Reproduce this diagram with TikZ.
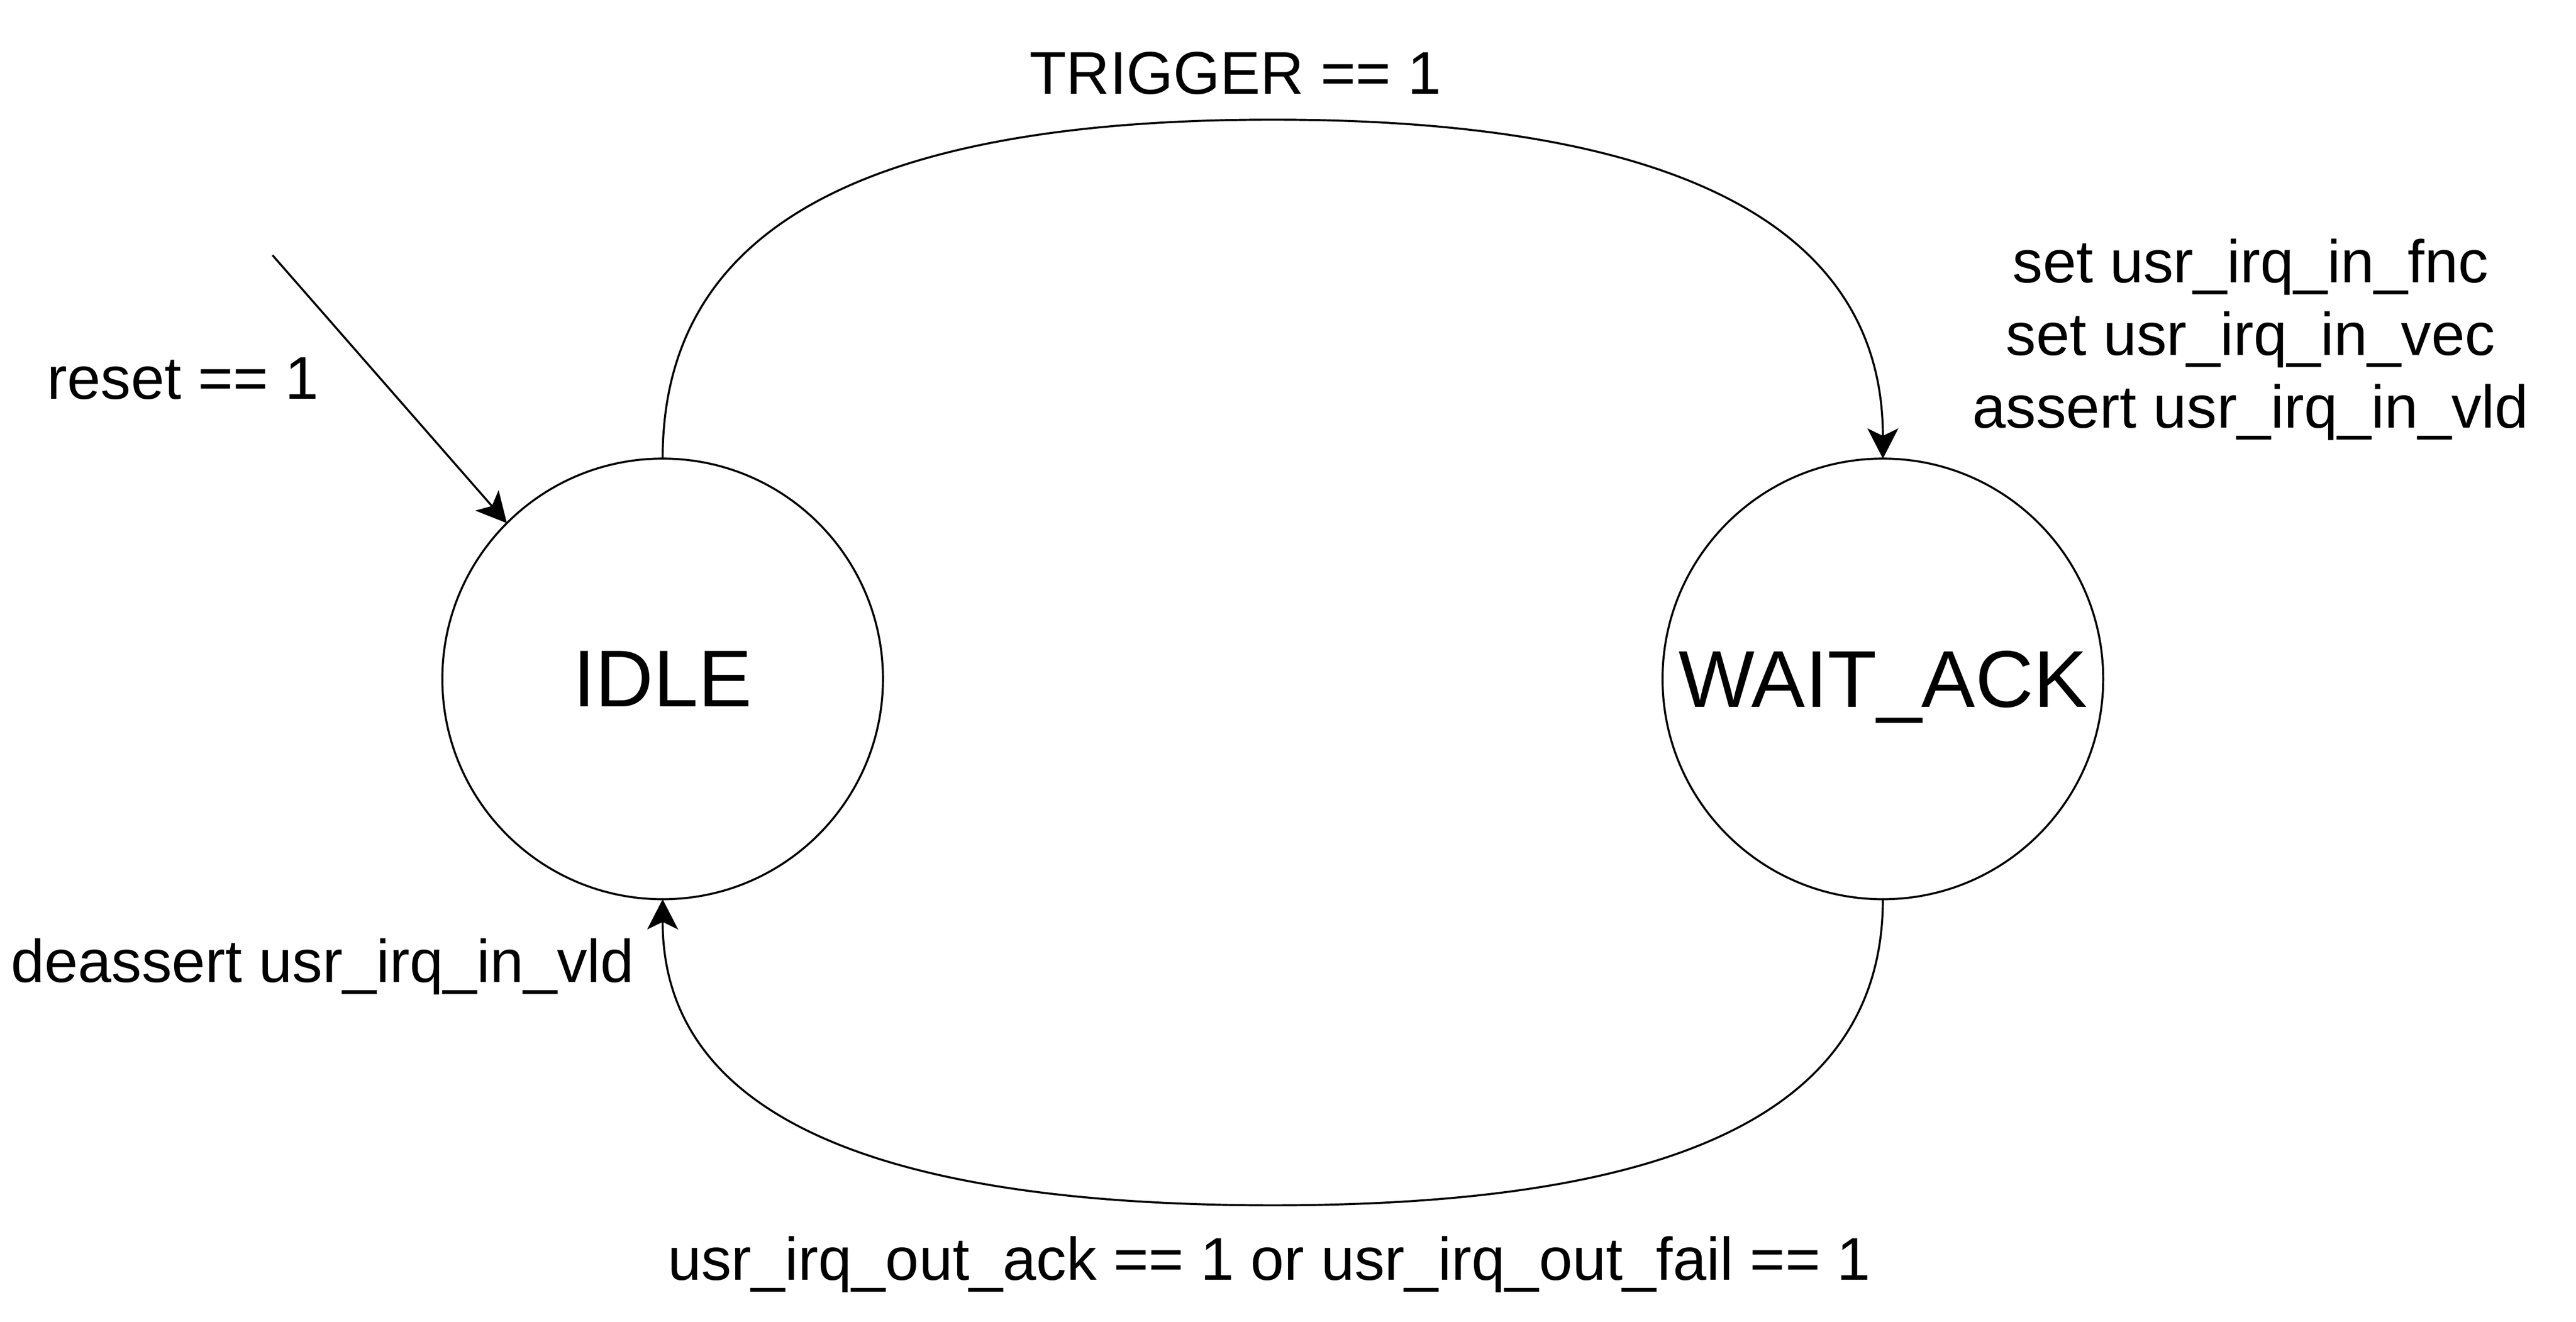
\documentclass[tikz,border=0pt]{standalone}
\usepackage{fontspec}
\setmainfont{Liberation Sans}
\usepackage{tkz-graph}
\usetikzlibrary{arrows.meta}
\newcommand{\edgefont}{\fontsize{25.3}{30.5}\selectfont}
\newcommand{\statefont}{\fontsize{33.8}{40}\selectfont}
\newcommand{\lw}{0.85pt}

\begin{document}
\begin{tikzpicture}
        \useasboundingbox (0,0) rectangle (38,19.5);
        %\GraphInit[vstyle=Classic]
        \SetVertexNormal[Shape=circle, FillColor=white, LineWidth=\lw]
        \tikzset{VertexStyle/.append style = {minimum size = 6.5cm, inner sep=0pt, text depth=0pt, font=\statefont}}
        \tikzset{trans/.style = {line width=\lw, -{Stealth[length=4.45mm, width=4.55mm, inset=1.1mm]}},
                 lbl/.style = {font=\edgefont, inner sep=0pt}}
        \Vertex[x=9.775, y=9.485, L={IDLE}]{idle}
        \Vertex[x=27.775, y=9.485, L={WAIT\_ACK}]{wait}
        % reset
        \coordinate (rst) at (4.02,15.735);
        \draw[trans] (rst) -- (idle.135);
        \node[lbl, anchor=base] (lblreset) at (2.7,13.615) {reset == 1};
        % idle -> wait_ack
        \coordinate (topmid) at (18.775,17.735);
        \draw[trans] (idle.north) .. controls +(0,3.26) and +(-6.275,0) .. (topmid)
                     .. controls +(6.275,0) and +(0,3.26) .. (wait.north);
        \node[lbl, anchor=base] (lbltrig) at (18.225,18.115) {TRIGGER == 1};
        \node[lbl, anchor=base, align=center] (lblset) at (33.2,13.185)
            {set usr\_irq\_in\_fnc\\set usr\_irq\_in\_vec\\assert usr\_irq\_in\_vld};
        % wait_ack -> idle
        \coordinate (botmid) at (18.775,1.72);
        \draw[trans] (wait.south) .. controls +(0,-3.225) and +(5.775,0) .. (botmid)
                     .. controls +(-5.775,0) and +(0,-3.225) .. (idle.south);
        \node[lbl, anchor=base] (lbldeas) at (4.76,5.01) {deassert usr\_irq\_in\_vld};
        \node[lbl, anchor=base] (lblack) at (18.725,0.62) {usr\_irq\_out\_ack == 1 or usr\_irq\_out\_fail == 1};
    \end{tikzpicture}
\end{document}
